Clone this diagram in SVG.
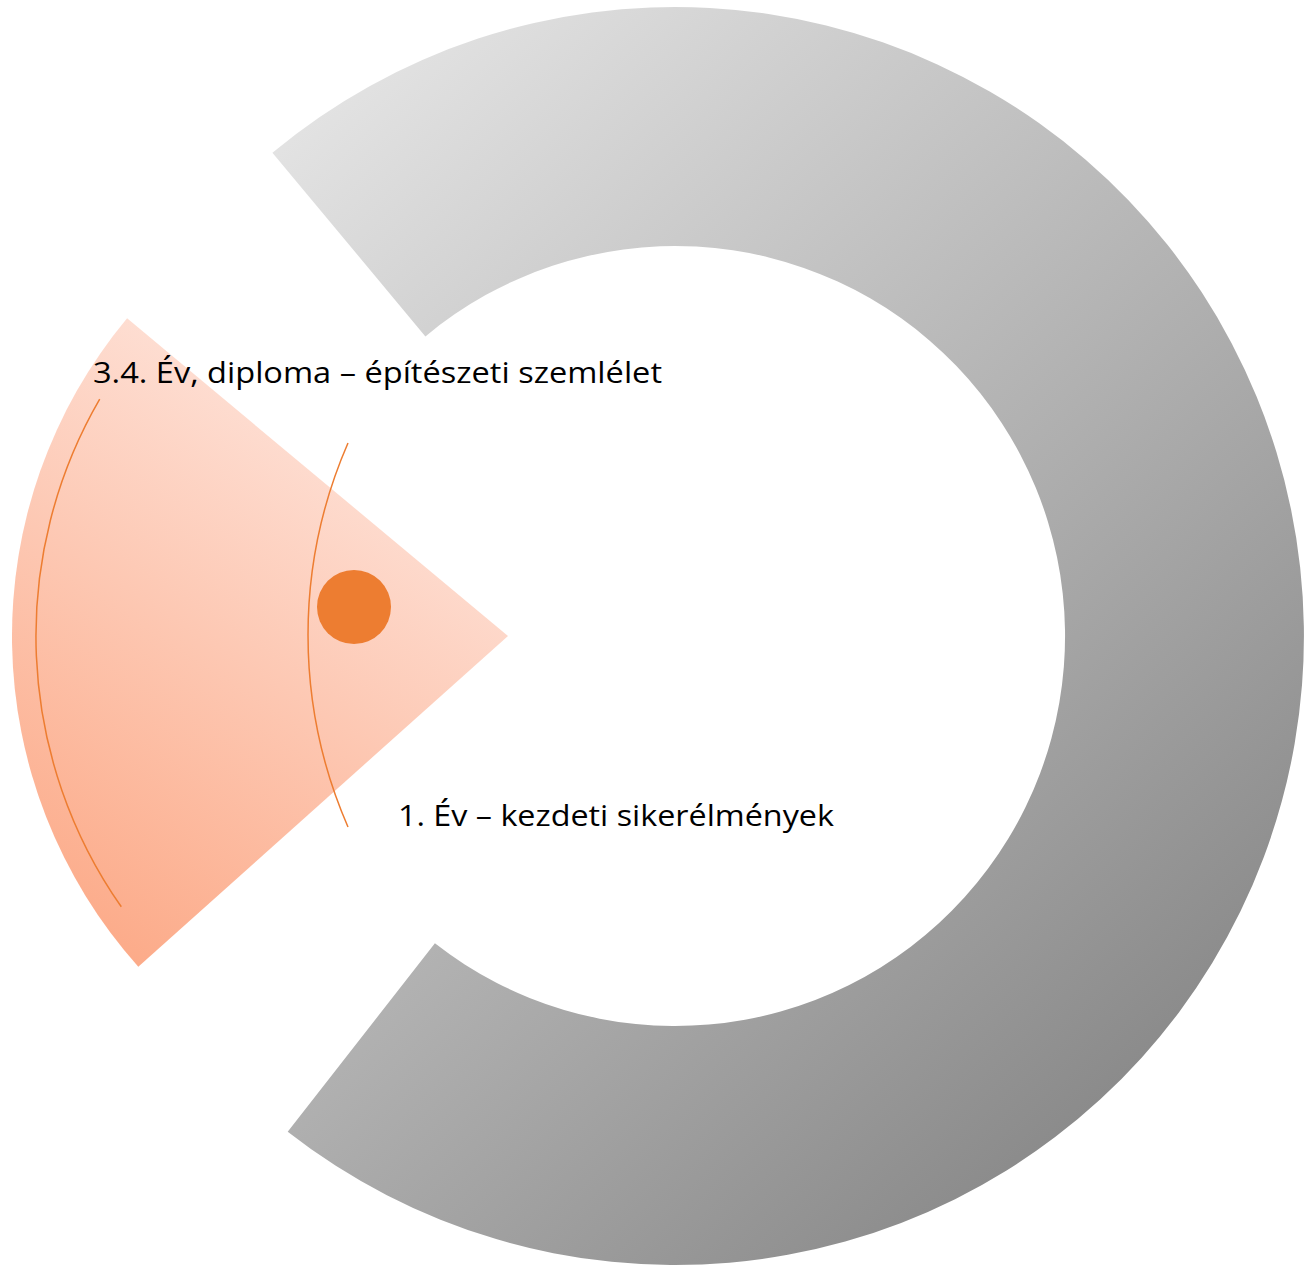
<svg xmlns="http://www.w3.org/2000/svg" width="1314" height="1267" viewBox="0 0 1314 1267">
<defs>
<linearGradient id="ringGrad" gradientUnits="userSpaceOnUse" x1="250" y1="100" x2="1250" y2="1200">
<stop offset="0" stop-color="#e6e6e6"/>
<stop offset="1" stop-color="#7f7f7f"/>
</linearGradient>
<linearGradient id="sectorGrad" gradientUnits="userSpaceOnUse" x1="460" y1="420" x2="110" y2="960">
<stop offset="0" stop-color="#fee6de"/>
<stop offset="1" stop-color="#fcaa88"/>
</linearGradient>
<style>
.lbl{font-family:"Open Sans","Liberation Sans",sans-serif;font-size:29px;fill:#000}
.arc{fill:none;stroke:#ed7d31;stroke-width:1.5}
</style>
</defs>
<rect width="1314" height="1267" fill="#ffffff"/>
<g id="ring">
<path d="M 272.4 152.7 A 629 629 0 1 1 287.7 1131.7 L 434.9 943.3 A 390 390 0 1 0 425.4 336.4 Z" fill="url(#ringGrad)"/>
</g>
<g id="sector">
<path d="M 508 636 L 127.1 318.3 A 496 496 0 0 0 138.3 966.7 Z" fill="url(#sectorGrad)"/>
</g>
<g id="connectors">
<path class="arc" d="M 99.7 399.2 A 472 472 0 0 0 121.3 906.8"/>
<path class="arc" d="M 348 443 A 481 481 0 0 0 348 827"/>
</g>
<g id="marker-dot">
<circle cx="354" cy="607" r="37" fill="#ed7d31"/>
</g>
<g id="label-diploma">
<text class="lbl" x="93" y="383" textLength="569" lengthAdjust="spacingAndGlyphs">3.4. Év, diploma – építészeti szemlélet</text>
</g>
<g id="label-year1">
<text class="lbl" x="398" y="826" textLength="436" lengthAdjust="spacingAndGlyphs">1. Év – kezdeti sikerélmények</text>
</g>
</svg>
